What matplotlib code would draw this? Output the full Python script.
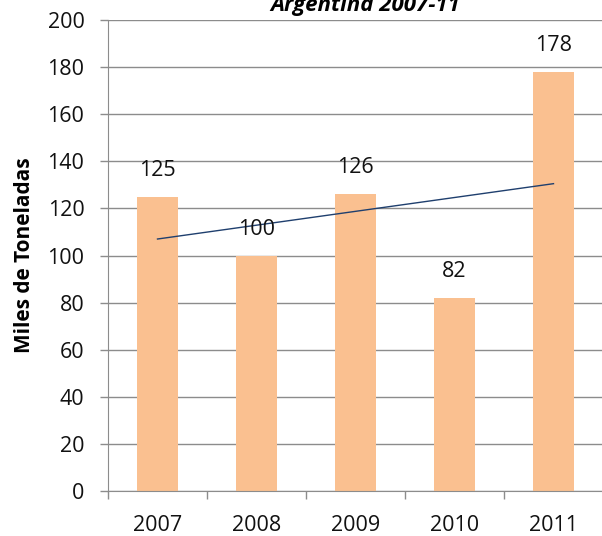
import matplotlib
matplotlib.use("Agg")
import matplotlib.pyplot as plt
import numpy as np

plt.rcParams['font.family'] = ['Open Sans', 'DejaVu Sans']

years = ['2007', '2008', '2009', '2010', '2011']
values = [125, 100, 126, 82, 178]
# trend line end points
trend_ends = [107, 130.5]

bar_color = '#FAC090'
grid_color = '#8C8C8C'

fig = plt.figure(figsize=(6.02, 5.36), dpi=100)
ax = fig.add_axes([108 / 602, 1 - 491 / 536, (603 - 108) / 602, (491 - 20) / 536])

x = np.arange(1, len(years) + 1)
ax.bar(x, values, width=0.41, color=bar_color, zorder=2)
ax.plot([x[0], x[-1]], trend_ends, color='#1F3F6E', lw=1.0, zorder=3)

for xi, v in zip(x, values):
    ax.annotate(str(v), (xi, v), xytext=(0, 19), textcoords='offset points',
                ha='center', va='center', fontsize=15.5, color='#111111', zorder=4)

ax.set_xlim(0.5, 5.5)
ax.set_ylim(0, 200)
ax.set_yticks(range(0, 201, 20))
ax.yaxis.grid(True, color=grid_color, lw=1.0, zorder=0)
ax.set_axisbelow(True)

ax.set_xticks(x)
ax.set_xticklabels(years)
ax.set_xticks(np.arange(0.5, 5.6, 1), minor=True)
ax.tick_params(axis='x', which='major', length=0, pad=17, labelsize=15.5, labelcolor='#111111')
ax.tick_params(axis='x', which='minor', length=6, color=grid_color, width=1)
ax.tick_params(axis='y', length=6, color=grid_color, width=1, pad=11, labelsize=15.5, labelcolor='#111111')

for s in ['top', 'right']:
    ax.spines[s].set_visible(False)
for s in ['left', 'bottom']:
    ax.spines[s].set_color(grid_color)

ax.set_ylabel('Miles de Toneladas', fontsize=15, fontweight='bold', labelpad=9)

fig.text(0.606, 1 - 11 / 536, 'Argentina 2007-11', ha='center', va='baseline',
         fontsize=16, fontweight='bold', fontstyle='italic')

fig.savefig('out.png', dpi=100)
